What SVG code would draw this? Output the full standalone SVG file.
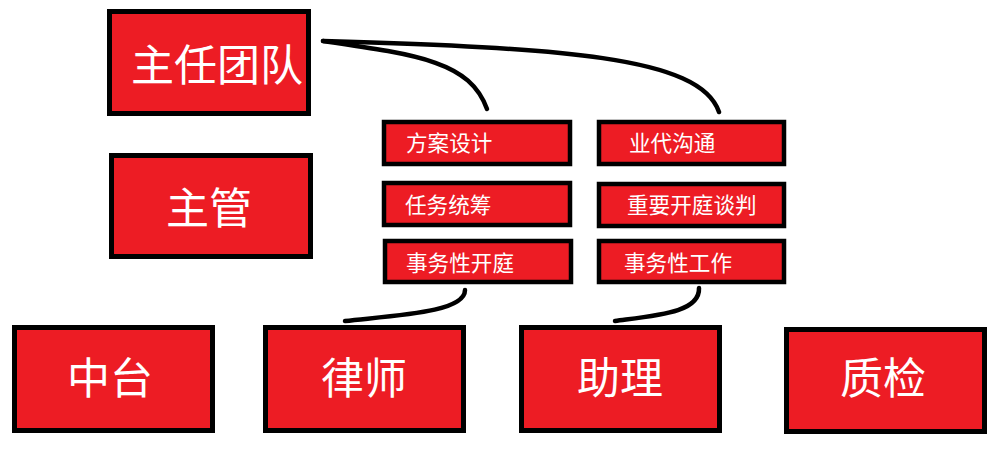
<svg xmlns="http://www.w3.org/2000/svg" width="1000" height="473" viewBox="0 0 1000 473">
<style>
.box{fill:#ED1C24;stroke:#000;stroke-width:5}
.sbox{fill:#ED1C24;stroke:#000;stroke-width:4.5}
.big{font-family:"Noto Sans CJK SC","Noto Sans",sans-serif;font-size:43px;fill:#fff}
.sm{font-family:"Noto Sans CJK SC","Noto Sans",sans-serif;font-size:21.6px;fill:#fff}
.con{fill:none;stroke:#000;stroke-width:4.5;stroke-linecap:round}
</style>
<rect width="1000" height="473" fill="#fff"/>
<g id="connectors">
<path class="con" d="M323,41 C420,55 470,62 487,109"/>
<path class="con" d="M323,41 C560,48 700,56 719,112"/>
<path class="con" d="M345,321 C400,315 465,312 465,290"/>
<path class="con" d="M615,321 C660,315 700,312 699,288"/>
</g>
<g id="n-zhuren"><rect class="box" x="109.5" y="11.5" width="199" height="102"/><text class="big" x="131" y="81">主任团队</text></g>
<g id="n-zhuguan"><rect class="box" x="111.5" y="155.5" width="199" height="101"/><text class="big" x="166" y="224">主管</text></g>
<g id="n-fangan"><rect class="sbox" x="384" y="122" width="186" height="42"/><text class="sm" x="406" y="151">方案设计</text></g>
<g id="n-yedai"><rect class="sbox" x="599" y="122" width="185" height="42"/><text class="sm" x="629" y="151">业代沟通</text></g>
<g id="n-renwu"><rect class="sbox" x="384" y="183" width="186" height="42"/><text class="sm" x="405" y="213">任务统筹</text></g>
<g id="n-zhongyao"><rect class="sbox" x="599" y="184" width="185" height="42"/><text class="sm" x="627" y="213">重要开庭谈判</text></g>
<g id="n-kaiting"><rect class="sbox" x="385" y="241" width="186" height="41"/><text class="sm" x="406" y="271">事务性开庭</text></g>
<g id="n-gongzuo"><rect class="sbox" x="599" y="241" width="185" height="41"/><text class="sm" x="624" y="271">事务性工作</text></g>
<g id="n-zhongtai"><rect class="box" x="14.5" y="327.5" width="198" height="103"/><text class="big" x="67" y="394">中台</text></g>
<g id="n-lvshi"><rect class="box" x="265.5" y="327.5" width="198" height="103"/><text class="big" x="321" y="394">律师</text></g>
<g id="n-zhuli"><rect class="box" x="521.5" y="327.5" width="198" height="103"/><text class="big" x="577" y="394">助理</text></g>
<g id="n-zhijian"><rect class="box" x="786.5" y="329.5" width="198" height="102"/><text class="big" x="840" y="394">质检</text></g>
</svg>
